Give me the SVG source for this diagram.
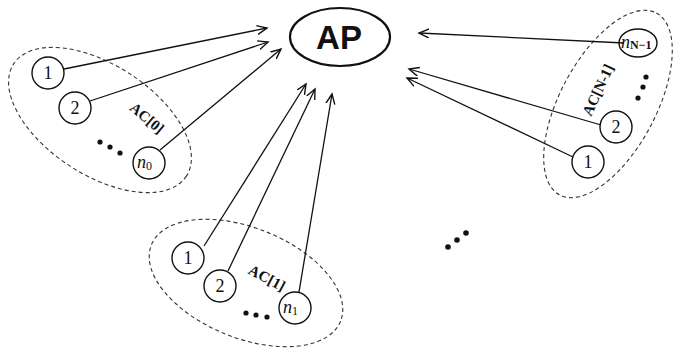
<svg xmlns="http://www.w3.org/2000/svg" width="673" height="353" viewBox="0 0 673 353">
<style>
.grp{fill:none;stroke:#333;stroke-width:1.1;stroke-dasharray:4,3}
.node{fill:#fff;stroke:#111;stroke-width:1.4}
.num{font-family:"Liberation Serif",serif;font-size:18px;fill:#111;text-anchor:middle}
.it{font-family:"Liberation Serif",serif;font-style:italic;font-size:18px;fill:#111}
.lbl{font-family:"Liberation Serif",serif;font-weight:bold;font-size:15px;fill:#111;text-anchor:middle}
.edge{stroke:#111;stroke-width:1.3;fill:none;marker-end:url(#arr)}
.dot{fill:#111}
</style>
<defs>
<marker id="arr" markerUnits="userSpaceOnUse" markerWidth="12" markerHeight="12" refX="10" refY="5" orient="auto">
<path d="M0,0.5 L10,5 L0,9.5" fill="none" stroke="#111" stroke-width="1.4"/>
</marker>
</defs>
<rect width="673" height="353" fill="#fff"/>

<g id="AP">
<ellipse cx="340" cy="37" rx="50" ry="29" fill="#fff" stroke="#111" stroke-width="2.2"/>
<text x="339" y="49" font-family="Liberation Sans,Arial,sans-serif" font-weight="bold" font-size="33" text-anchor="middle" fill="#111">AP</text>
</g>

<g id="AC0">
<ellipse class="grp" cx="100" cy="120" rx="103" ry="55" transform="rotate(33 100 120)"/>
<text class="lbl" x="147" y="123" transform="rotate(40 147 118)">AC[0]</text>
<circle class="dot" cx="100" cy="142" r="2.6"/>
<circle class="dot" cx="110" cy="147" r="2.6"/>
<circle class="dot" cx="120" cy="153" r="2.6"/>
</g>
<g id="AC0_1"><circle class="node" cx="48" cy="73" r="16"/><text class="num" x="48" y="79">1</text></g>
<g id="AC0_2"><circle class="node" cx="75" cy="108" r="16"/><text class="num" x="75" y="114">2</text></g>
<g id="AC0_n0"><circle class="node" cx="149" cy="163" r="16"/><text class="it" x="137" y="168">n<tspan font-style="normal" font-size="12" dy="2">0</tspan></text></g>

<g id="AC1">
<ellipse class="grp" cx="246" cy="283" rx="102" ry="55" transform="rotate(22 246 283)"/>
<text class="lbl" x="267" y="283" transform="rotate(28 267 278)">AC[1]</text>
<circle class="dot" cx="246" cy="313" r="2.6"/>
<circle class="dot" cx="256" cy="315" r="2.6"/>
<circle class="dot" cx="267" cy="317" r="2.6"/>
</g>
<g id="AC1_1"><circle class="node" cx="188" cy="258" r="16"/><text class="num" x="188" y="264">1</text></g>
<g id="AC1_2"><circle class="node" cx="220" cy="286" r="16"/><text class="num" x="220" y="292">2</text></g>
<g id="AC1_n1"><circle class="node" cx="295" cy="308" r="16"/><text class="it" x="283" y="313">n<tspan font-style="normal" font-size="12" dy="2">1</tspan></text></g>

<g id="ACN1">
<ellipse class="grp" cx="608" cy="104" rx="103" ry="48" transform="rotate(-62 608 104)"/>
<text class="lbl" x="598" y="95" transform="rotate(-65 598 90)">AC[N-1]</text>
<circle class="dot" cx="646" cy="77" r="2.6"/>
<circle class="dot" cx="643" cy="87" r="2.6"/>
<circle class="dot" cx="638" cy="98" r="2.6"/>
</g>
<g id="ACN1_n"><ellipse class="node" cx="638" cy="43" rx="19" ry="14"/><text class="it" x="621" y="48" font-size="14">n<tspan font-style="normal" font-weight="bold" font-size="12" dy="1">N−1</tspan></text></g>
<g id="ACN1_2"><circle class="node" cx="616" cy="127" r="16"/><text class="num" x="616" y="133">2</text></g>
<g id="ACN1_1"><circle class="node" cx="588" cy="162" r="16"/><text class="num" x="588" y="168">1</text></g>

<g id="more">
<circle class="dot" cx="448" cy="247" r="2.8"/>
<circle class="dot" cx="457" cy="240" r="2.8"/>
<circle class="dot" cx="466" cy="233" r="2.8"/>
</g>

<g id="connectors">
<line class="edge" x1="64" y1="69" x2="267" y2="28"/>
<line class="edge" x1="90" y1="101" x2="268" y2="42"/>
<line class="edge" x1="160" y1="150" x2="281" y2="49"/>
<line class="edge" x1="204" y1="246" x2="306" y2="84"/>
<line class="edge" x1="228" y1="271" x2="315" y2="89"/>
<line class="edge" x1="299" y1="292" x2="332" y2="94"/>
<line class="edge" x1="624" y1="43" x2="419" y2="33"/>
<line class="edge" x1="601" y1="125" x2="409" y2="69"/>
<line class="edge" x1="573" y1="157" x2="407" y2="78"/>
</g>
</svg>
